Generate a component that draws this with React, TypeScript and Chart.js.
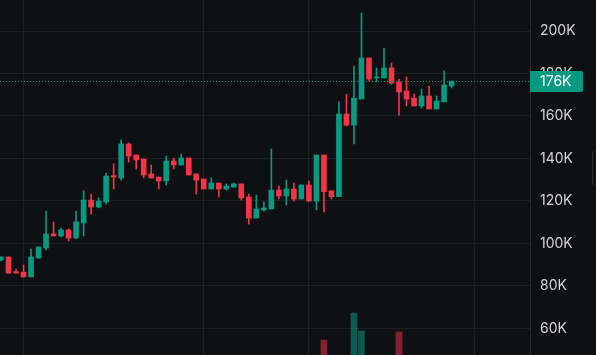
import React, { useEffect, useRef } from 'react';
import { Chart, registerables } from 'chart.js';

Chart.register(...registerables);

// Prices in thousands (K)
const opens = [92.2, 93.6, 86.7, 86.4, 84.2, 93.1, 97.8, 104.4, 103.5, 106.3, 102.5, 109.6, 120.4, 117.1, 119.5, 131.9, 130.8, 146.8, 141.6, 139.7, 132.7, 131.2, 129.4, 138.8, 136.9, 140.2, 132.7, 130.3, 125.6, 128.4, 125.6, 126.5, 128.0, 121.8, 111.9, 115.7, 116.2, 125.1, 122.3, 125.6, 120.9, 127.5, 119.9, 141.6, 124.7, 122.0, 160.9, 155.7, 168.0, 187.3, 177.9, 177.9, 182.6, 176.0, 171.7, 168.4, 164.7, 169.4, 163.3, 166.6, 174.1];
const highs = [93.6, 93.6, 87.9, 89.8, 97.3, 98.3, 115.2, 110.1, 107.2, 106.8, 115.2, 124.7, 123.2, 121.4, 133.1, 137.4, 148.7, 147.3, 141.6, 139.7, 136.9, 131.2, 141.1, 140.2, 142.1, 140.2, 132.7, 130.3, 130.8, 128.4, 128.0, 128.4, 128.0, 123.2, 122.8, 119.5, 144.4, 127.0, 129.8, 128.4, 127.5, 129.4, 141.6, 141.6, 124.7, 166.6, 170.3, 183.5, 208.5, 187.3, 182.6, 192.0, 184.9, 177.4, 178.3, 170.3, 172.7, 174.1, 169.4, 181.2, 176.4];
const lows = [91.7, 86.0, 86.0, 84.2, 84.2, 93.1, 96.9, 103.5, 103.0, 101.1, 102.3, 103.5, 113.8, 116.7, 118.5, 125.6, 129.8, 138.3, 135.0, 130.8, 130.8, 125.6, 127.5, 135.0, 136.9, 132.2, 123.2, 125.6, 125.6, 121.8, 125.1, 126.5, 120.4, 109.1, 111.9, 115.2, 116.2, 120.9, 118.1, 119.9, 120.9, 119.9, 115.7, 114.8, 120.9, 122.0, 155.3, 146.8, 168.0, 176.5, 176.0, 177.9, 175.0, 160.4, 164.7, 164.7, 163.7, 163.3, 163.3, 166.6, 173.2];
const closes = [93.6, 86.0, 86.0, 84.2, 93.6, 98.3, 104.4, 103.5, 106.3, 102.5, 110.1, 120.4, 117.1, 119.9, 131.7, 131.2, 146.8, 141.1, 139.3, 132.2, 130.8, 129.4, 138.8, 136.9, 140.2, 132.2, 129.8, 125.6, 128.4, 125.6, 127.0, 128.0, 121.4, 111.9, 116.2, 116.7, 125.1, 122.3, 125.6, 120.9, 127.5, 119.9, 141.6, 124.4, 122.0, 160.9, 155.7, 168.4, 187.3, 177.4, 178.3, 182.6, 175.5, 171.3, 168.0, 164.7, 169.4, 163.3, 167.0, 174.6, 176.4];
const volumes = [null, null, null, null, null, null, null, null, null, null, null, null, null, null, null, null, null, null, null, null, null, null, null, null, null, null, null, null, null, null, null, null, null, null, null, null, null, null, null, null, null, null, null, 4.2, null, null, null, 11.8, 6.8, null, null, null, null, 6.5, null, null, null, null, null, null, null];

const yTickValues = [60, 80, 100, 120, 140, 160, 180, 200];
const xGridTicks = [3, 27, 41, 63];

const UP = '#089981';
const DOWN = '#f23645';
const BG = '#0f1014';
const GRID = '#1e2026';
const TEXT = '#d1d4dc';

export default function App() {
  const ref = useRef<HTMLCanvasElement>(null);

  useEffect(() => {
    document.body.style.margin = '0';
    document.body.style.background = BG;
    const canvas = ref.current;
    if (!canvas) return;
    const n = closes.length;
    const idx = closes.map((_, i) => i);
    const colors = idx.map((i) => (closes[i] >= opens[i] ? UP : DOWN));
    const volColors = idx.map((i) => (closes[i] >= opens[i] ? 'rgba(8,153,129,0.55)' : 'rgba(242,54,69,0.5)'));
    const lastClose = closes[n - 1];

    const pricePlugin = {
      id: 'priceLine',
      afterDraw(chart: any) {
        const { ctx, chartArea, scales } = chart;
        const y = Math.round(scales.y.getPixelForValue(lastClose)) + 0.5;
        ctx.save();
        ctx.strokeStyle = UP;
        ctx.lineWidth = 1;
        ctx.setLineDash([1, 2]);
        ctx.beginPath();
        ctx.moveTo(chartArea.left, y);
        ctx.lineTo(chartArea.right, y);
        ctx.stroke();
        ctx.setLineDash([]);
        ctx.fillStyle = UP;
        const bx = chartArea.right;
        const by = y - 10.5;
        ctx.beginPath();
        if ((ctx as any).roundRect) {
          (ctx as any).roundRect(bx, by, 53, 21, [0, 2, 2, 0]);
        } else {
          ctx.rect(bx, by, 53, 21);
        }
        ctx.fill();
        ctx.fillStyle = '#ffffff';
        ctx.font = '14px Inter';
        ctx.textBaseline = 'middle';
        ctx.textAlign = 'left';
        ctx.fillText(Math.round(lastClose) + 'K', bx + 10, y + 0.5);
        ctx.restore();
      },
    };

    const chart = new Chart(canvas, {
      type: 'bar',
      data: {
        datasets: [
          {
            label: 'Volume',
            data: idx.filter((i) => volumes[i] != null).map((i) => ({ x: i, y: volumes[i] })),
            backgroundColor: idx.filter((i) => volumes[i] != null).map((i) => volColors[i]),
            yAxisID: 'yv',
            xAxisID: 'x',
            barThickness: 6,
            grouped: false,
            order: 3,
            borderWidth: 0,
          } as any,
          {
            label: 'Wick',
            data: idx.map((i) => ({ x: i, y: [lows[i], highs[i]] })),
            backgroundColor: colors,
            yAxisID: 'y',
            xAxisID: 'x',
            barThickness: 1,
            grouped: false,
            order: 2,
            borderWidth: 0,
            minBarLength: 1,
          } as any,
          {
            label: 'Body',
            data: idx.map((i) => ({ x: i, y: [opens[i], closes[i]] })),
            backgroundColor: colors,
            yAxisID: 'y',
            xAxisID: 'x',
            barThickness: 5,
            grouped: false,
            order: 1,
            borderWidth: 0,
            minBarLength: 1,
          } as any,
        ],
      },
      options: {
        animation: false,
        responsive: false,
        maintainAspectRatio: false,
        layout: { padding: 0 },
        plugins: {
          legend: { display: false },
          tooltip: { enabled: false },
        },
        scales: {
          x: {
            type: 'linear',
            position: 'bottom',
            min: -0.133,
            max: 70.44,
            offset: false,
            grid: { color: GRID, drawTicks: false, offset: false, lineWidth: 1 },
            border: { display: false },
            ticks: { display: false },
            afterBuildTicks: (scale: any) => {
              scale.ticks = xGridTicks.map((v) => ({ value: v }));
            },
            afterFit: (scale: any) => {
              scale.height = 0;
              scale.paddingLeft = 0;
              scale.paddingRight = 0;
              scale.paddingTop = 0;
              scale.paddingBottom = 0;
            },
          },
          y: {
            type: 'linear',
            position: 'right',
            min: 47.43,
            max: 214.6,
            beginAtZero: false,
            grid: { color: GRID, drawTicks: false, lineWidth: 1 },
            border: { display: true, color: '#2a2d36', width: 1 },
            ticks: {
              color: TEXT,
              font: { family: 'Inter', size: 14 },
              padding: 10,
              crossAlign: 'near',
              callback: (v: any) => v + 'K',
            },
            afterBuildTicks: (scale: any) => {
              scale.ticks = yTickValues.map((v) => ({ value: v }));
            },
            afterFit: (scale: any) => {
              scale.width = 66;
              scale.paddingTop = 0;
              scale.paddingBottom = 0;
              scale.paddingLeft = 0;
              scale.paddingRight = 0;
            },
          },
          yv: {
            type: 'linear',
            display: false,
            min: 0,
            max: 100,
          },
        },
      } as any,
      plugins: [pricePlugin],
    });

    return () => chart.destroy();
  }, []);

  return (
    <div style={{ position: 'fixed', left: 0, top: 0, width: 596, height: 355, background: BG, overflow: 'hidden' }}>
      <canvas ref={ref} width={596} height={355} style={{ display: 'block' }} />
      <div
        style={{
          position: 'absolute',
          left: 592,
          top: 150,
          width: 12,
          height: 36,
          border: '1px solid #2b2e37',
          borderRadius: 4,
          boxSizing: 'border-box',
        }}
      />
    </div>
  );
}
